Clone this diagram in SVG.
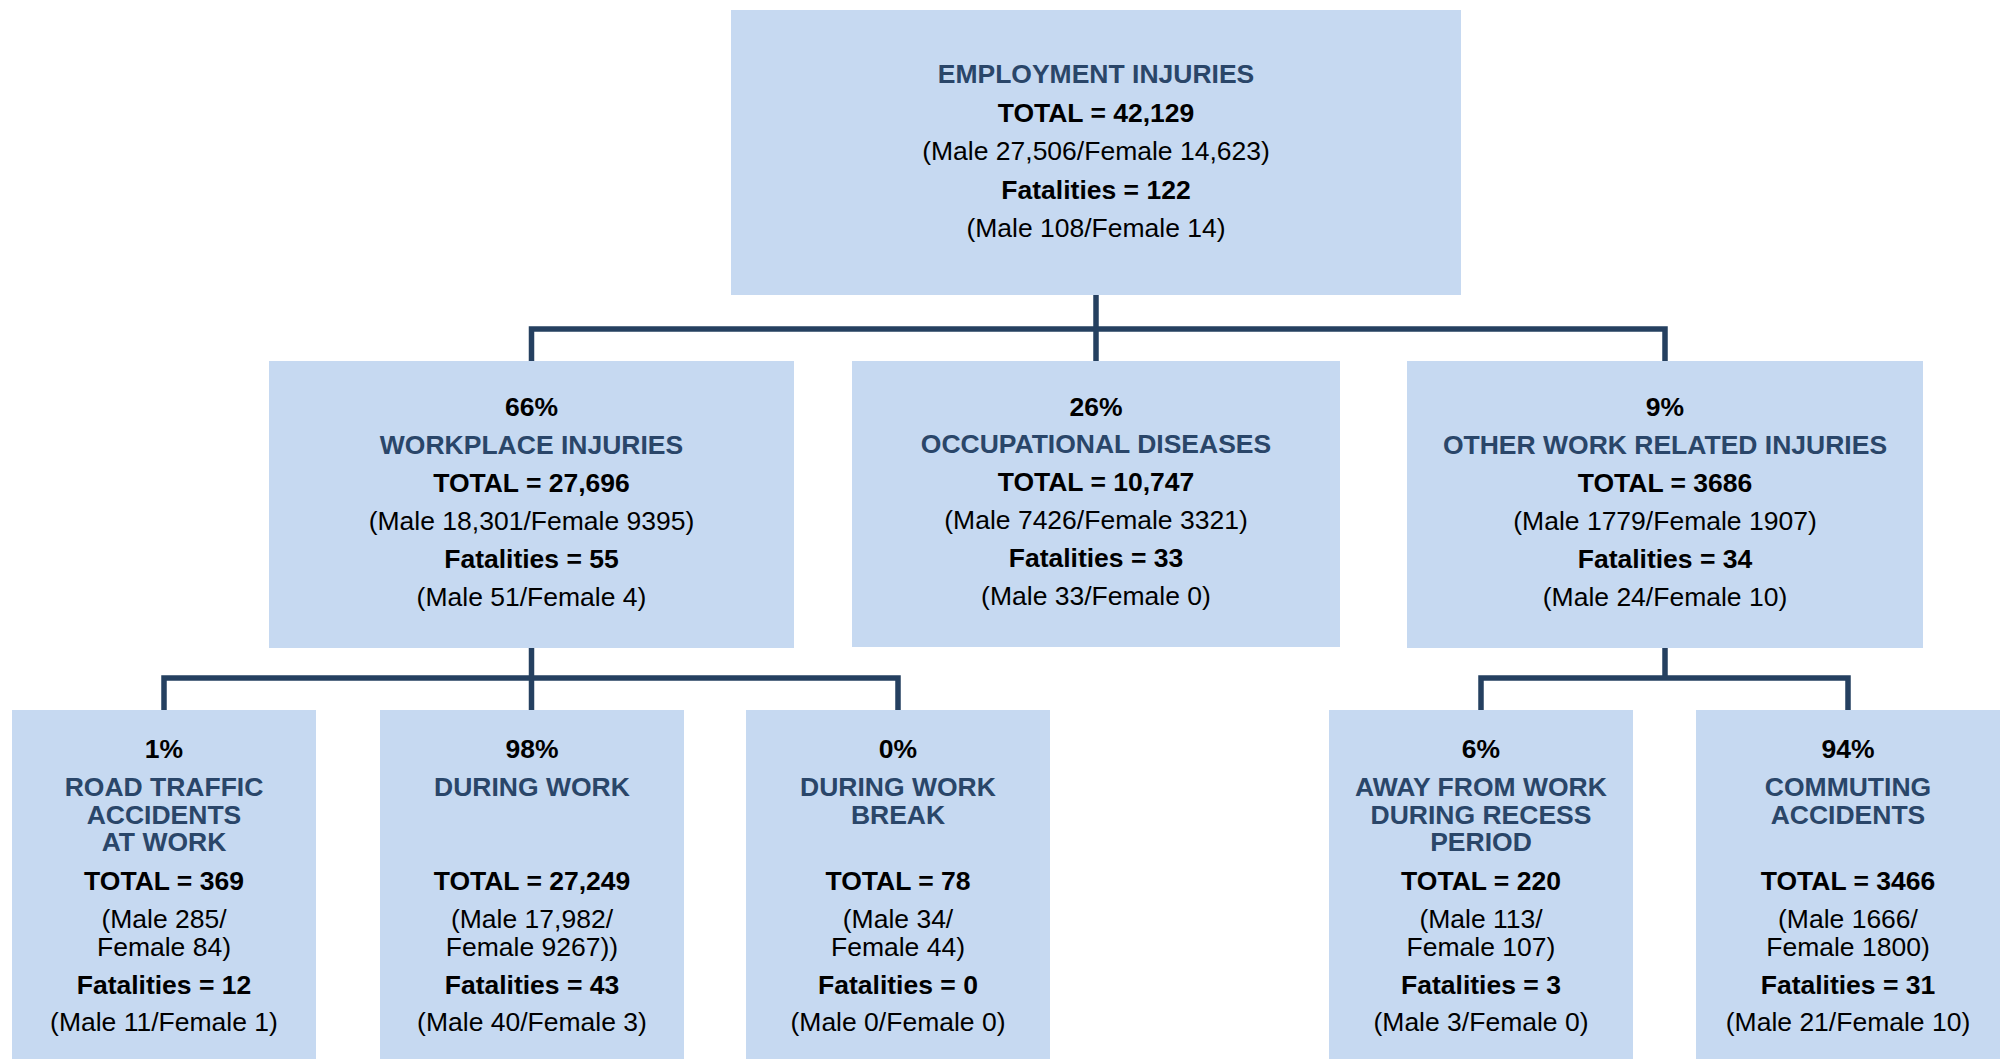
<svg xmlns="http://www.w3.org/2000/svg" width="2007" height="1059" viewBox="0 0 2007 1059">
<style>
  .box { fill: #C6D9F1; }
  text { font-family: "Liberation Sans", Arial, sans-serif; font-size: 26.5px; text-anchor: middle; }
  .h { font-weight: bold; fill: #2A4669; }
  .b { font-weight: bold; fill: #000000; }
  .r { fill: #000000; }
  .conn { fill: none; stroke: #254060; stroke-width: 5.5; stroke-linejoin: miter; stroke-linecap: butt; }
</style>
<rect width="2007" height="1059" fill="#FFFFFF"/>

<g id="connectors">
  <path class="conn" d="M1096,295 V361"/>
  <path class="conn" d="M531.5,361 V329 H1665 V361"/>
  <path class="conn" d="M531.5,648 V710"/>
  <path class="conn" d="M164,710 V678 H898 V710"/>
  <path class="conn" d="M1665,648 V678"/>
  <path class="conn" d="M1481,710 V678 H1848 V710"/>
</g>

<g id="employment-injuries">
  <rect class="box" x="731" y="10" width="730" height="285"/>
  <text class="h" x="1096" y="83">EMPLOYMENT INJURIES</text>
  <text class="b" x="1096" y="122">TOTAL = 42,129</text>
  <text class="r" x="1096" y="160">(Male 27,506/Female 14,623)</text>
  <text class="b" x="1096" y="199">Fatalities = 122</text>
  <text class="r" x="1096" y="237">(Male 108/Female 14)</text>
</g>

<g id="workplace-injuries">
  <rect class="box" x="269" y="361" width="525" height="287"/>
  <text class="b" x="531.5" y="416">66%</text>
  <text class="h" x="531.5" y="454">WORKPLACE INJURIES</text>
  <text class="b" x="531.5" y="492">TOTAL = 27,696</text>
  <text class="r" x="531.5" y="530">(Male 18,301/Female 9395)</text>
  <text class="b" x="531.5" y="568">Fatalities = 55</text>
  <text class="r" x="531.5" y="606">(Male 51/Female 4)</text>
</g>

<g id="occupational-diseases">
  <rect class="box" x="852" y="361" width="488" height="286"/>
  <text class="b" x="1096" y="416">26%</text>
  <text class="h" x="1096" y="453">OCCUPATIONAL DISEASES</text>
  <text class="b" x="1096" y="491">TOTAL = 10,747</text>
  <text class="r" x="1096" y="529">(Male 7426/Female 3321)</text>
  <text class="b" x="1096" y="567">Fatalities = 33</text>
  <text class="r" x="1096" y="605">(Male 33/Female 0)</text>
</g>

<g id="other-work-related-injuries">
  <rect class="box" x="1407" y="361" width="516" height="287"/>
  <text class="b" x="1665" y="416">9%</text>
  <text class="h" x="1665" y="454">OTHER WORK RELATED INJURIES</text>
  <text class="b" x="1665" y="492">TOTAL = 3686</text>
  <text class="r" x="1665" y="530">(Male 1779/Female 1907)</text>
  <text class="b" x="1665" y="568">Fatalities = 34</text>
  <text class="r" x="1665" y="606">(Male 24/Female 10)</text>
</g>

<g id="road-traffic-accidents">
  <rect class="box" x="12" y="710" width="304" height="349"/>
  <text class="b" x="164" y="758">1%</text>
  <text class="h" x="164" y="795.5">ROAD TRAFFIC</text>
  <text class="h" x="164" y="823.5">ACCIDENTS</text>
  <text class="h" x="164" y="850.5">AT WORK</text>
  <text class="b" x="164" y="890">TOTAL = 369</text>
  <text class="r" x="164" y="928">(Male 285/</text>
  <text class="r" x="164" y="956">Female 84)</text>
  <text class="b" x="164" y="993.5">Fatalities = 12</text>
  <text class="r" x="164" y="1031">(Male 11/Female 1)</text>
</g>

<g id="during-work">
  <rect class="box" x="380" y="710" width="304" height="349"/>
  <text class="b" x="532" y="758">98%</text>
  <text class="h" x="532" y="795.5">DURING WORK</text>
  <text class="b" x="532" y="890">TOTAL = 27,249</text>
  <text class="r" x="532" y="928">(Male 17,982/</text>
  <text class="r" x="532" y="956">Female 9267))</text>
  <text class="b" x="532" y="993.5">Fatalities = 43</text>
  <text class="r" x="532" y="1031">(Male 40/Female 3)</text>
</g>

<g id="during-work-break">
  <rect class="box" x="746" y="710" width="304" height="349"/>
  <text class="b" x="898" y="758">0%</text>
  <text class="h" x="898" y="795.5">DURING WORK</text>
  <text class="h" x="898" y="823.5">BREAK</text>
  <text class="b" x="898" y="890">TOTAL = 78</text>
  <text class="r" x="898" y="928">(Male 34/</text>
  <text class="r" x="898" y="956">Female 44)</text>
  <text class="b" x="898" y="993.5">Fatalities = 0</text>
  <text class="r" x="898" y="1031">(Male 0/Female 0)</text>
</g>

<g id="away-from-work">
  <rect class="box" x="1329" y="710" width="304" height="349"/>
  <text class="b" x="1481" y="758">6%</text>
  <text class="h" x="1481" y="795.5">AWAY FROM WORK</text>
  <text class="h" x="1481" y="823.5">DURING RECESS</text>
  <text class="h" x="1481" y="850.5">PERIOD</text>
  <text class="b" x="1481" y="890">TOTAL = 220</text>
  <text class="r" x="1481" y="928">(Male 113/</text>
  <text class="r" x="1481" y="956">Female 107)</text>
  <text class="b" x="1481" y="993.5">Fatalities = 3</text>
  <text class="r" x="1481" y="1031">(Male 3/Female 0)</text>
</g>

<g id="commuting-accidents">
  <rect class="box" x="1696" y="710" width="304" height="349"/>
  <text class="b" x="1848" y="758">94%</text>
  <text class="h" x="1848" y="795.5">COMMUTING</text>
  <text class="h" x="1848" y="823.5">ACCIDENTS</text>
  <text class="b" x="1848" y="890">TOTAL = 3466</text>
  <text class="r" x="1848" y="928">(Male 1666/</text>
  <text class="r" x="1848" y="956">Female 1800)</text>
  <text class="b" x="1848" y="993.5">Fatalities = 31</text>
  <text class="r" x="1848" y="1031">(Male 21/Female 10)</text>
</g>
</svg>
